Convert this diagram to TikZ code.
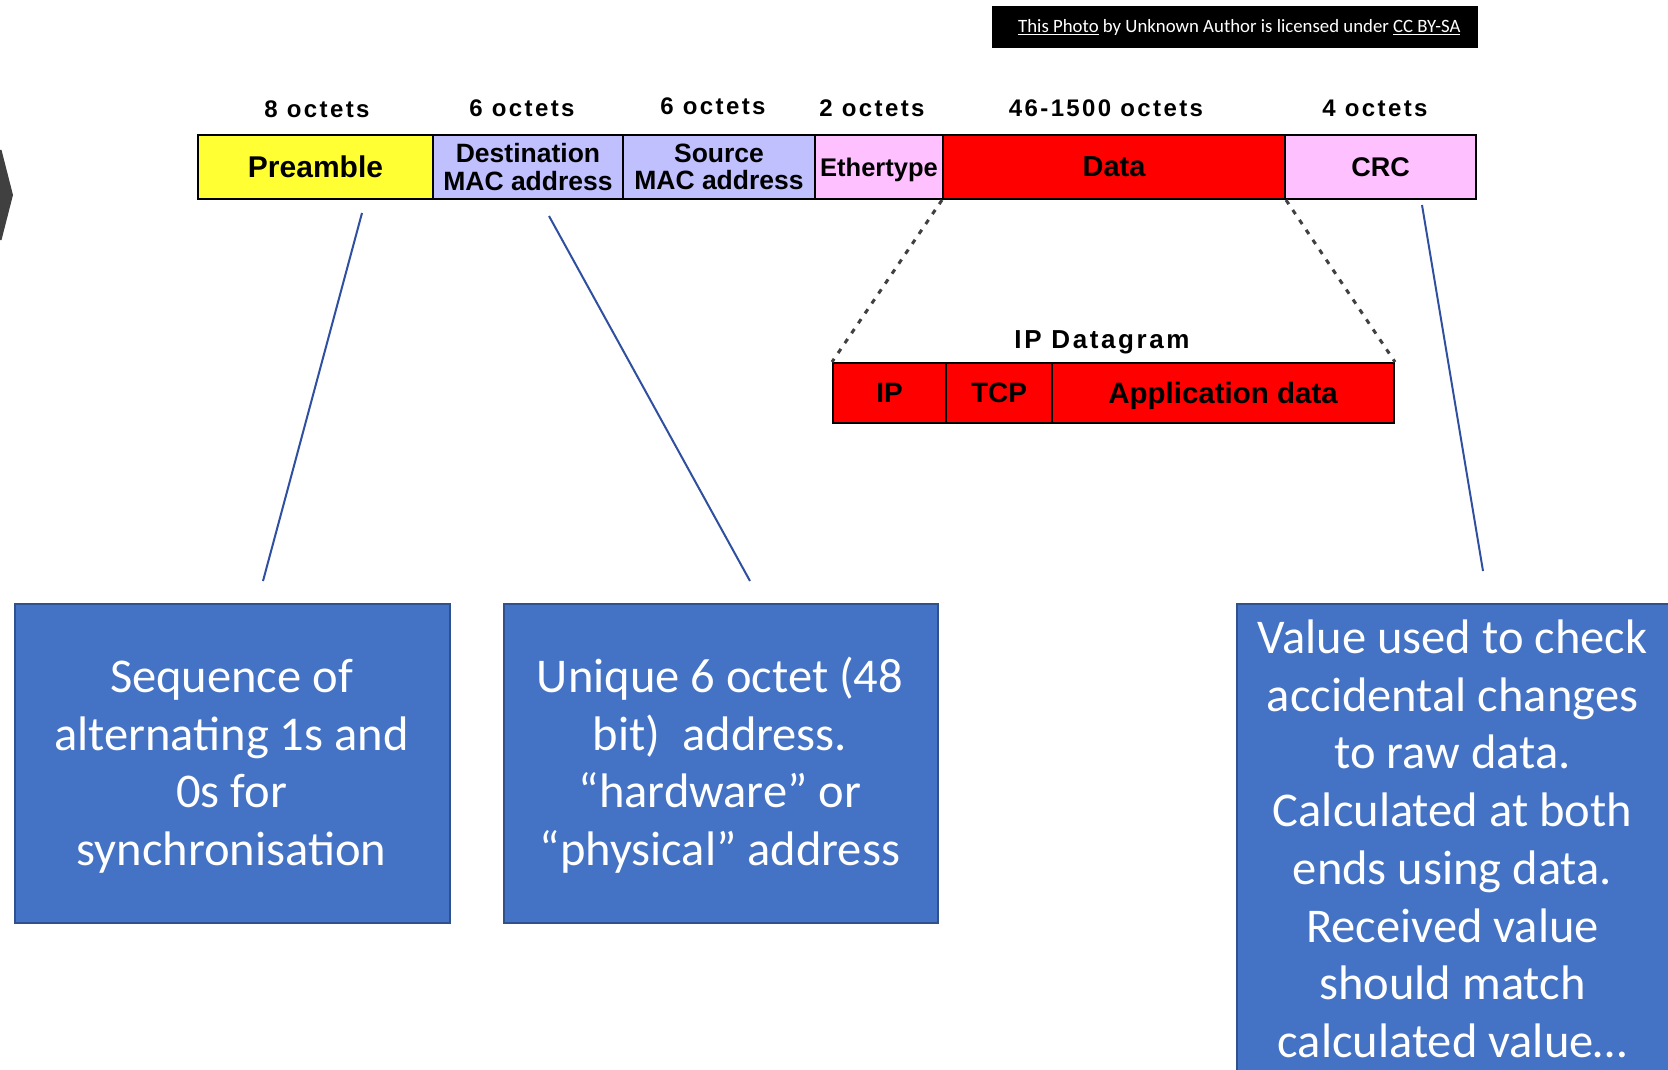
\documentclass[tikz,border=0pt]{standalone}
\usepackage{fontspec}
\setmainfont{Carlito}
\newfontfamily\framefont{Liberation Sans}
\newfontfamily\spacedfont{Liberation Sans}[LetterSpace=10]

\definecolor{pream}{HTML}{FFFF33}
\definecolor{macfill}{HTML}{C0C0FF}
\definecolor{pinkfill}{HTML}{FFC0FF}
\definecolor{datared}{HTML}{FF0000}
\definecolor{boxblue}{HTML}{4472C4}
\definecolor{boxedge}{HTML}{2F528F}
\definecolor{leaderblue}{HTML}{2F4FA0}
\definecolor{chevgray}{HTML}{404040}

\tikzset{
  field/.style={draw=black, line width=2pt, inner sep=0pt, align=center,
    font=\framefont\bfseries\fontsize{27}{27}\selectfont},
  sizelabel/.style={anchor=base, inner sep=0pt,
    font=\spacedfont\bfseries\fontsize{24}{28}\selectfont},
  calloutbox/.style={fill=boxblue, draw=boxedge, line width=2pt,
    anchor=north west, inner sep=0pt},
  callouttext/.style={anchor=base, inner sep=0pt, text=white,
    font=\fontsize{48.5}{58}\selectfont},
  leader/.style={draw=leaderblue, line width=2pt},
  zoomline/.style={draw=black!75, line width=3pt, dash pattern=on 5pt off 7pt}
}

\begin{document}
\begin{tikzpicture}[x=1pt,y=-1pt]
\useasboundingbox (0,0) rectangle (1668,1070);
\fill[white] (0,0) rectangle (1668,1070);
\clip (0,0) rectangle (1668,1070);

% navigation chevron at the left edge
\fill[chevgray] (0,150) -- (1.5,150) -- (13,195) -- (1.5,240) -- (0,240) -- cycle;

% licence banner
\node[fill=black, minimum width=486pt, minimum height=42pt, anchor=north west,
  inner sep=0pt] (credit) at (992,6) {};
\node[anchor=base west, inner sep=0pt, text=white, font=\fontsize{18.8}{22}\selectfont]
  (credittext) at (1018,33)
  {\underline{This Photo} by Unknown Author is licensed under \underline{CC BY-SA}};

% Ethernet frame fields
\node[field, fill=pream,    minimum width=235pt, minimum height=64pt,
  font=\framefont\bfseries\fontsize{30}{27}\selectfont] (pre)  at (315.5,167) {Preamble};
\node[field, fill=macfill,  minimum width=190pt, minimum height=64pt,
  font=\framefont\bfseries\fontsize{26.5}{27.5}\selectfont] (dst)  at (528,167) {Destination\\MAC address};
\node[field, fill=macfill,  minimum width=192pt, minimum height=64pt,
  font=\framefont\bfseries\fontsize{26.5}{27.5}\selectfont] (src)  at (719,167) {Source\\MAC address};
\node[field, fill=pinkfill, minimum width=128pt, minimum height=64pt, text depth=0pt,
  font=\framefont\bfseries\fontsize{25.5}{25}\selectfont] (eth)  at (879,167) {Ethertype};
\node[field, fill=datared,  minimum width=342pt, minimum height=64pt,
  font=\framefont\bfseries\fontsize{29}{27}\selectfont] (data) at (1114,167) {Data};
\node[field, fill=pinkfill, minimum width=191pt, minimum height=64pt] (crc)  at (1380.5,167) {CRC};

% field sizes
\node[sizelabel] (szpre)  at (317,118)  {8 octets};
\node[sizelabel] (szdst)  at (522,117)  {6 octets};
\node[sizelabel] (szsrc)  at (713,115)  {6 octets};
\node[sizelabel] (szeth)  at (872,117)  {2 octets};
\node[sizelabel] (szdata) at (1106,117) {46-1500 octets};
\node[sizelabel] (szcrc)  at (1375,117) {4 octets};

% IP datagram carried in the data field
\node[sizelabel, font=\spacedfont\bfseries\fontsize{26}{28}\selectfont] (iplabel) at (1102,348) {IP Datagram};
\node[field, fill=datared, minimum width=113pt, minimum height=60pt,
  font=\framefont\bfseries\fontsize{28}{28}\selectfont] (ip)  at (889.5,393) {IP};
\node[field, fill=datared, minimum width=106pt, minimum height=60pt,
  font=\framefont\bfseries\fontsize{28}{28}\selectfont] (tcp) at (999,393) {TCP};
\node[field, fill=datared, minimum width=342pt, minimum height=60pt, text depth=0pt,
  font=\framefont\bfseries\fontsize{29.5}{28}\selectfont] (app) at (1223,393) {Application data};

\draw[zoomline] (data.south west) -- (ip.north west);
\draw[zoomline] (data.south east) -- (app.north east);

% explanation boxes
\node[calloutbox, minimum width=435pt, minimum height=319pt] (prebox) at (14,603) {};
\node[calloutbox, minimum width=434pt, minimum height=319pt] (macbox) at (503,603) {};
\node[calloutbox, minimum width=435pt, minimum height=520pt] (crcbox) at (1236,603) {};

\node[callouttext] (pre1) at (231.5,692) {Sequence of};
\node[callouttext] (pre2) at (231.5,750) {alternating 1s and};
\node[callouttext] (pre3) at (231.5,807) {0s for};
\node[callouttext] (pre4) at (231.5,865) {synchronisation};

\node[callouttext] (mac1) at (720,692) {Unique 6 octet (48};
\node[callouttext] (mac2) at (720,750) {bit)\ \ address.};
\node[callouttext] (mac3) at (720,807) {“hardware” or};
\node[callouttext] (mac4) at (720,865) {“physical” address};

\node[callouttext] (crc1) at (1452.5,653)  {Value used to check};
\node[callouttext] (crc2) at (1452.5,711)  {accidental changes};
\node[callouttext] (crc3) at (1452.5,768)  {to raw data.};
\node[callouttext] (crc4) at (1452.5,826)  {Calculated at both};
\node[callouttext] (crc5) at (1452.5,884)  {ends using data.};
\node[callouttext] (crc6) at (1452.5,942)  {Received value};
\node[callouttext] (crc7) at (1452.5,999)  {should match};
\node[callouttext] (crc8) at (1452.5,1057) {calculated value…};

% leader lines from fields to their explanations
\coordinate (preA) at (362,213);  \coordinate (preB) at (263,581);
\coordinate (dstA) at (549,216);  \coordinate (dstB) at (750,581);
\coordinate (crcA) at (1422,205); \coordinate (crcB) at (1483,571);
\draw[leader] (preA) -- (preB);
\draw[leader] (dstA) -- (dstB);
\draw[leader] (crcA) -- (crcB);
\end{tikzpicture}
\end{document}
